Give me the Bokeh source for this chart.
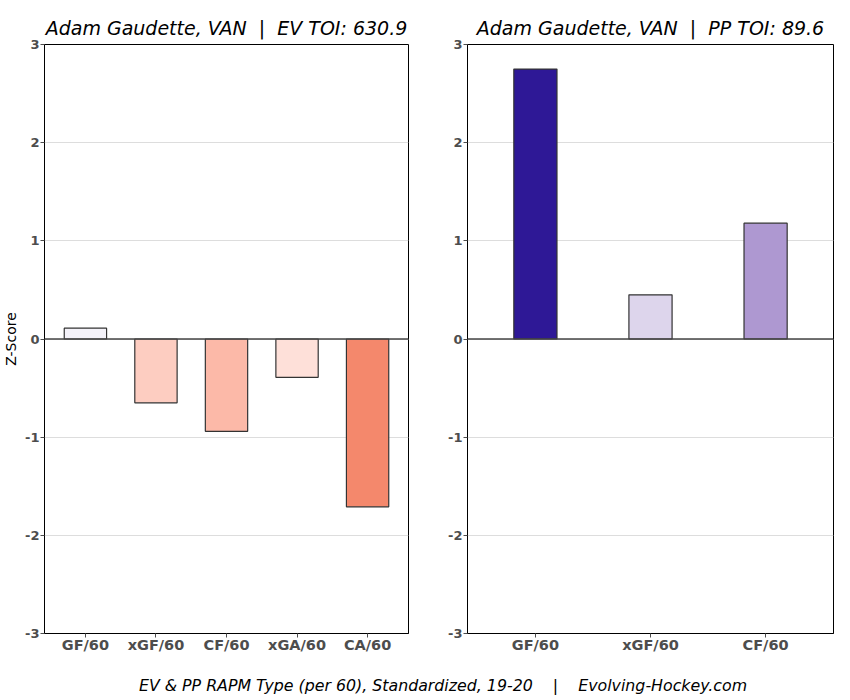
from bokeh.plotting import figure
from bokeh.models import Range1d, FixedTicker, Span, Div
from bokeh.layouts import column, row
from bokeh.embed import file_html
from bokeh.resources import INLINE

ev_labels = ["GF/60", "xGF/60", "CF/60", "xGA/60", "CA/60"]
ev_values = [0.11, -0.65, -0.94, -0.39, -1.71]
ev_colors = ["#f4f2f9", "#fdcdc1", "#fcb9a8", "#fee0d9", "#f4886c"]

pp_labels = ["GF/60", "xGF/60", "CF/60"]
pp_values = [2.75, 0.45, 1.18]
pp_colors = ["#2e1896", "#ddd5ec", "#ae98d1"]

y_ticks = [-3, -2, -1, 0, 1, 2, 3]
y_tick_labels = ["-3", "-2", "-1", "0", "1", "2", "3"]

FONT = "DejaVu Sans"
NB = "\u00a0"


def make_panel(title, labels, values, colors, bar_w, pad, bl, br, fw, ylabel):
    n = len(labels)
    p = figure(width=bl + fw + br, height=670, frame_width=fw, frame_height=589,
               x_range=Range1d(-pad, n - 1 + pad), y_range=Range1d(-3, 3),
               output_backend="svg", toolbar_location=None,
               min_border_left=bl, min_border_right=br, min_border_top=44,
               min_border_bottom=37)
    p.title.text = title
    p.title.align = "center"
    p.title.text_font = FONT
    p.title.text_font_style = "italic"
    p.title.text_font_size = "19px"
    p.title.text_color = "#000000"
    p.title.offset = 0
    p.title.standoff = 12
    xs = list(range(n))
    p.vbar(x=xs, top=values, bottom=0, width=bar_w, fill_color=colors,
           line_color="#333333", line_width=1.2)
    p.add_layout(Span(location=0, dimension="width", line_color="#444444", line_width=1.3))
    p.xaxis.ticker = FixedTicker(ticks=xs)
    p.xaxis.major_label_overrides = {i: l for i, l in enumerate(labels)}
    p.yaxis.ticker = FixedTicker(ticks=y_ticks)
    p.yaxis.major_label_overrides = {t: l for t, l in zip(y_ticks, y_tick_labels)}
    for ax in (p.xaxis, p.yaxis):
        ax.major_label_text_font = FONT
        ax.major_label_text_font_style = "bold"
        ax.major_label_text_color = "#4d4d4d"
        ax.axis_line_color = "#000000"
        ax.major_tick_line_color = "#4d4d4d"
        ax.major_tick_out = 4
        ax.major_tick_in = 0
        ax.minor_tick_line_color = None
    p.xaxis.major_label_text_font_size = "14.5px"
    p.yaxis.major_label_text_font_size = "13px"
    p.yaxis.major_label_standoff = 1
    p.xaxis.major_label_standoff = -1
    if ylabel:
        p.yaxis.axis_label = ylabel
        p.yaxis.axis_label_text_font = FONT
        p.yaxis.axis_label_text_font_style = "normal"
        p.yaxis.axis_label_text_font_size = "14px"
        p.yaxis.axis_label_text_color = "#000000"
        p.yaxis.axis_label_standoff = 3
    p.xgrid.grid_line_color = None
    p.ygrid.grid_line_color = "#dddddd"
    p.ygrid.grid_line_width = 1
    p.outline_line_color = "#000000"
    p.outline_line_width = 1
    p.background_fill_color = "white"
    p.border_fill_color = "white"
    return p


p1 = make_panel(f"Adam Gaudette, VAN {NB}|{NB} EV TOI: 630.9", ev_labels, ev_values, ev_colors,
                0.6, 0.58, 35, 18, 364, "Z-Score")
p2 = make_panel(f"Adam Gaudette, VAN {NB}|{NB} PP TOI: 89.6", pp_labels, pp_values, pp_colors,
                0.375, 0.59, 41, 10, 366, None)

caption = Div(text=('<div style="width:834px;box-sizing:border-box;text-align:center;padding-left:42px;'
                    'font-family:\'DejaVu Sans\';font-style:italic;font-size:15.8px;color:#000;white-space:pre">'
                    'EV &amp; PP RAPM Type (per 60), Standardized, 19-20    |    Evolving-Hockey.com</div>'),
              width=834, height=24)

layout = column(row(p1, p2), caption, spacing=0)

open("out.html", "w").write(file_html(layout, INLINE))
